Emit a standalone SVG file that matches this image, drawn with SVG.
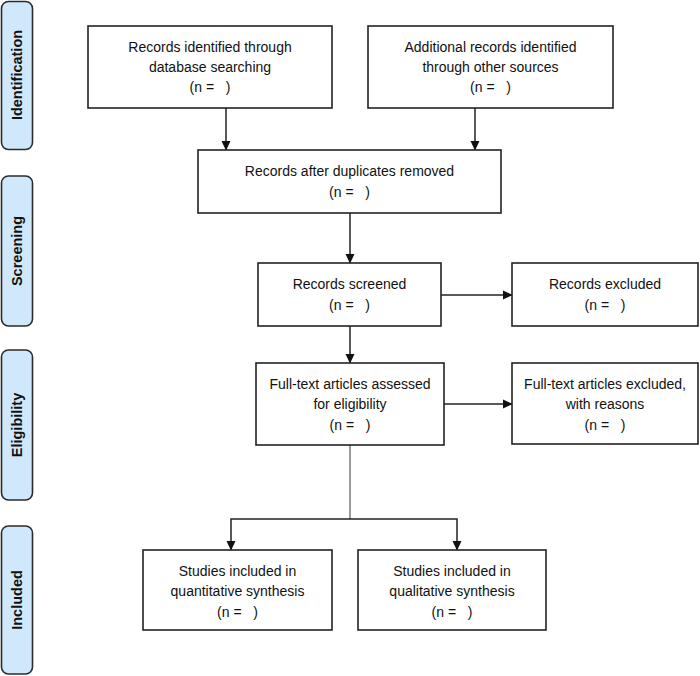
<svg xmlns="http://www.w3.org/2000/svg" width="700" height="676" viewBox="0 0 700 676">
<style>
.tab{fill:#cfe8fb;stroke:#2b2b2b;stroke-width:1.6}
.box{fill:#fff;stroke:#222;stroke-width:1.6}
.t{font-family:"Liberation Sans",Arial,sans-serif;font-size:14px;fill:#111;text-anchor:middle;white-space:pre}
.lab{font-family:"Liberation Sans",Arial,sans-serif;font-size:14.5px;font-weight:bold;fill:#111;text-anchor:middle}
.c{fill:none;stroke:#222;stroke-width:1.5}
.g{fill:none;stroke:#555;stroke-width:1.2}
</style>
<defs>
<marker id="ah" markerWidth="10" markerHeight="10" refX="9" refY="5" orient="auto" markerUnits="userSpaceOnUse">
<path d="M0,0.5 L9.5,5 L0,9.5 Z" fill="#111"/>
</marker>
</defs>
<rect width="700" height="676" fill="#fff"/>
<g id="tabs">
<g id="tab-identification"><rect class="tab" x="1.5" y="1.5" width="31" height="148" rx="7"/><text class="lab" transform="translate(22,75) rotate(-90)">Identification</text></g>
<g id="tab-screening"><rect class="tab" x="1.5" y="176" width="31" height="150" rx="7"/><text class="lab" transform="translate(22,251) rotate(-90)">Screening</text></g>
<g id="tab-eligibility"><rect class="tab" x="1.5" y="350" width="31" height="150" rx="7"/><text class="lab" transform="translate(22,425) rotate(-90)">Eligibility</text></g>
<g id="tab-included"><rect class="tab" x="1.5" y="526" width="31" height="148" rx="7"/><text class="lab" transform="translate(22,600) rotate(-90)">Included</text></g>
</g>
<g id="connectors">
<line class="c" x1="226" y1="108" x2="226" y2="150" marker-end="url(#ah)"/>
<line class="c" x1="475" y1="108" x2="475" y2="150" marker-end="url(#ah)"/>
<line class="c" x1="350" y1="213" x2="350" y2="263" marker-end="url(#ah)"/>
<line class="c" x1="441" y1="295" x2="512" y2="295" marker-end="url(#ah)"/>
<line class="c" x1="350" y1="326" x2="350" y2="363" marker-end="url(#ah)"/>
<line class="c" x1="444" y1="404" x2="512" y2="404" marker-end="url(#ah)"/>
<line class="g" x1="350" y1="445" x2="350" y2="519"/>
<path class="c" d="M350,519 H231 V550" marker-end="url(#ah)"/>
<path class="c" d="M350,519 H457 V550" marker-end="url(#ah)"/>
</g>
<g id="n-db"><rect class="box" x="88" y="26" width="244" height="82"/><text class="t" x="210" y="52">Records identified through</text><text class="t" x="210" y="72">database searching</text><text class="t" x="210" y="92">(n =   )</text></g>
<g id="n-other"><rect class="box" x="368" y="26" width="245" height="82"/><text class="t" x="490.5" y="52">Additional records identified</text><text class="t" x="490.5" y="72">through other sources</text><text class="t" x="490.5" y="92">(n =   )</text></g>
<g id="n-dup"><rect class="box" x="198" y="150" width="303" height="63"/><text class="t" x="349.5" y="176">Records after duplicates removed</text><text class="t" x="349.5" y="197">(n =   )</text></g>
<g id="n-screened"><rect class="box" x="258" y="263" width="183" height="63"/><text class="t" x="349.5" y="289">Records screened</text><text class="t" x="349.5" y="310">(n =   )</text></g>
<g id="n-excluded"><rect class="box" x="512" y="263" width="186" height="63"/><text class="t" x="605" y="289">Records excluded</text><text class="t" x="605" y="310">(n =   )</text></g>
<g id="n-assessed"><rect class="box" x="256" y="363" width="188" height="82"/><text class="t" x="350" y="389">Full-text articles assessed</text><text class="t" x="350" y="409">for eligibility</text><text class="t" x="350" y="430">(n =   )</text></g>
<g id="n-ftexcl"><rect class="box" x="512" y="363" width="186" height="81"/><text class="t" x="605" y="389">Full-text articles excluded,</text><text class="t" x="605" y="409">with reasons</text><text class="t" x="605" y="430">(n =   )</text></g>
<g id="n-quant"><rect class="box" x="143" y="550" width="189" height="80"/><text class="t" x="237.5" y="576">Studies included in</text><text class="t" x="237.5" y="596">quantitative synthesis</text><text class="t" x="237.5" y="617">(n =   )</text></g>
<g id="n-qual"><rect class="box" x="358" y="550" width="188" height="80"/><text class="t" x="452" y="576">Studies included in</text><text class="t" x="452" y="596">qualitative synthesis</text><text class="t" x="452" y="617">(n =   )</text></g>
</svg>
